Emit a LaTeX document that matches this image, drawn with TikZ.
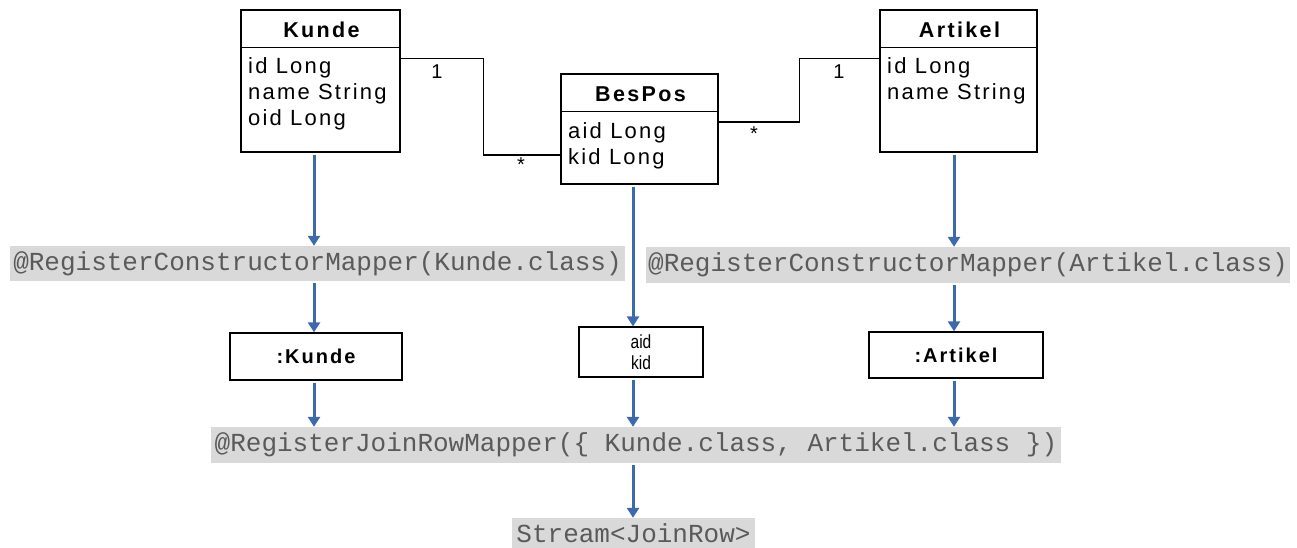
\documentclass[tikz,border=0pt]{standalone}
\usepackage{fontspec}
\setmainfont{Liberation Sans}
\setmonofont{Liberation Mono}
\newfontfamily\attrfont[LetterSpace=10]{Liberation Sans}
\newfontfamily\headfont[LetterSpace=11]{Liberation Sans}
\newfontfamily\objfont[LetterSpace=10]{Liberation Sans}
\newfontfamily\narrowfont[FakeStretch=0.82]{Liberation Sans}
\usepackage{tikz}
\usetikzlibrary{arrows.meta,positioning}

\definecolor{flowblue}{HTML}{3D6AAD}
\definecolor{codegray}{HTML}{D9D9D9}
\definecolor{codetext}{HTML}{5A5A5A}

\begin{document}
\begin{tikzpicture}[
  x=1pt, y=-1pt,
  cls/.style={draw, line width=1.4pt, inner sep=0pt},
  head/.style={font=\headfont\bfseries\fontsize{21.5}{25}\selectfont},
  attrs/.style={anchor=north west, inner sep=0pt, align=left, font=\attrfont\fontsize{22}{26}\selectfont},
  obj/.style={draw, line width=1.4pt, inner sep=0pt, font=\objfont\bfseries\fontsize{20}{24}\selectfont},
  code/.style={fill=codegray, text=codetext, inner sep=0pt, font=\ttfamily\fontsize{26}{30}\selectfont},
  mult/.style={inner sep=0pt, font=\fontsize{20}{24}\selectfont},
  assoc/.style={line width=1.2pt},
  flow/.style={-{Triangle[length=10pt,width=12pt]}, line width=3pt, flowblue, shorten <=2pt}
]
\useasboundingbox (0,0) rectangle (1297,547);

% classes
\node[cls, minimum width=159pt, minimum height=142pt] (kunde) at (320.5,81) {};
\draw[line width=1.4pt] ([yshift=-38pt]kunde.north west) -- ([yshift=-38pt]kunde.north east);
\node[head] (kundeh) at (321.5,30) {Kunde};
\node[attrs] (kundea) at (248,57) {id Long\\name String\\oid Long};

\node[cls, minimum width=157pt, minimum height=110pt] (bespos) at (639.5,129) {};
\draw[line width=1.4pt] ([yshift=-38pt]bespos.north west) -- ([yshift=-38pt]bespos.north east);
\node[head] (besposh) at (640.5,94) {BesPos};
\node[attrs] (besposa) at (568,122) {aid Long\\kid Long};

\node[cls, minimum width=157pt, minimum height=142pt] (artikel) at (958.5,81) {};
\draw[line width=1.4pt] ([yshift=-38pt]artikel.north west) -- ([yshift=-38pt]artikel.north east);
\node[head] (artikelh) at (959.5,30) {Artikel};
\node[attrs] (artikela) at (887,57) {id Long\\name String};

% associations
\draw[assoc] ([yshift=-49pt]kunde.north east) -- ++(83,0) |- ([yshift=-26pt]bespos.west);
\draw[assoc] ([yshift=-49pt]artikel.north west) -- ++(-80,0) |- ([yshift=7pt]bespos.east);
\node[mult] (m1) at (437,72) {1};
\node[mult] (m2) at (521,165) {*};
\node[mult] (m3) at (839,72) {1};
\node[mult] (m4) at (754,134) {*};

% mappers and objects
\node[code, minimum width=615pt, minimum height=35pt] (kmap) at (317.5,263.5) {@RegisterConstructorMapper(Kunde.class)};
\node[code, minimum width=644pt, minimum height=36pt] (amap) at (968,265) {@RegisterConstructorMapper(Artikel.class)};
\node[obj, minimum width=172pt, minimum height=47pt] (kobj) at (316,356.5) {:Kunde};
\node[draw, line width=1.2pt, minimum width=124pt, minimum height=50pt, inner sep=0pt, align=center,
  font=\narrowfont\fontsize{19}{21}\selectfont] (ids) at (641,352) {aid\\kid};
\node[obj, minimum width=174pt, minimum height=46pt] (aobj) at (956,355) {:Artikel};
\node[code, minimum width=850pt, minimum height=36pt] (jmap) at (636,445) {@RegisterJoinRowMapper(\{ Kunde.class, Artikel.class \})};
\node[code, minimum width=243pt, minimum height=30pt] (stream) at (633.5,533) {Stream<JoinRow>};

\coordinate (colK) at (314,0);
\coordinate (colB) at (633,0);
\coordinate (colA) at (954,0);

\draw[flow] (kunde.south -| colK) -- (kmap.north -| colK);
\draw[flow] (kmap.south -| colK) -- (kobj.north -| colK);
\draw[flow] (kobj.south -| colK) -- (jmap.north -| colK);
\draw[flow] (bespos.south -| colB) -- (ids.north -| colB);
\draw[flow] (ids.south -| colB) -- (jmap.north -| colB);
\draw[flow] (artikel.south -| colA) -- (amap.north -| colA);
\draw[flow] (amap.south -| colA) -- (aobj.north -| colA);
\draw[flow] (aobj.south -| colA) -- (jmap.north -| colA);
\draw[flow] (jmap.south -| colB) -- (stream.north -| colB);
\end{tikzpicture}
\end{document}
